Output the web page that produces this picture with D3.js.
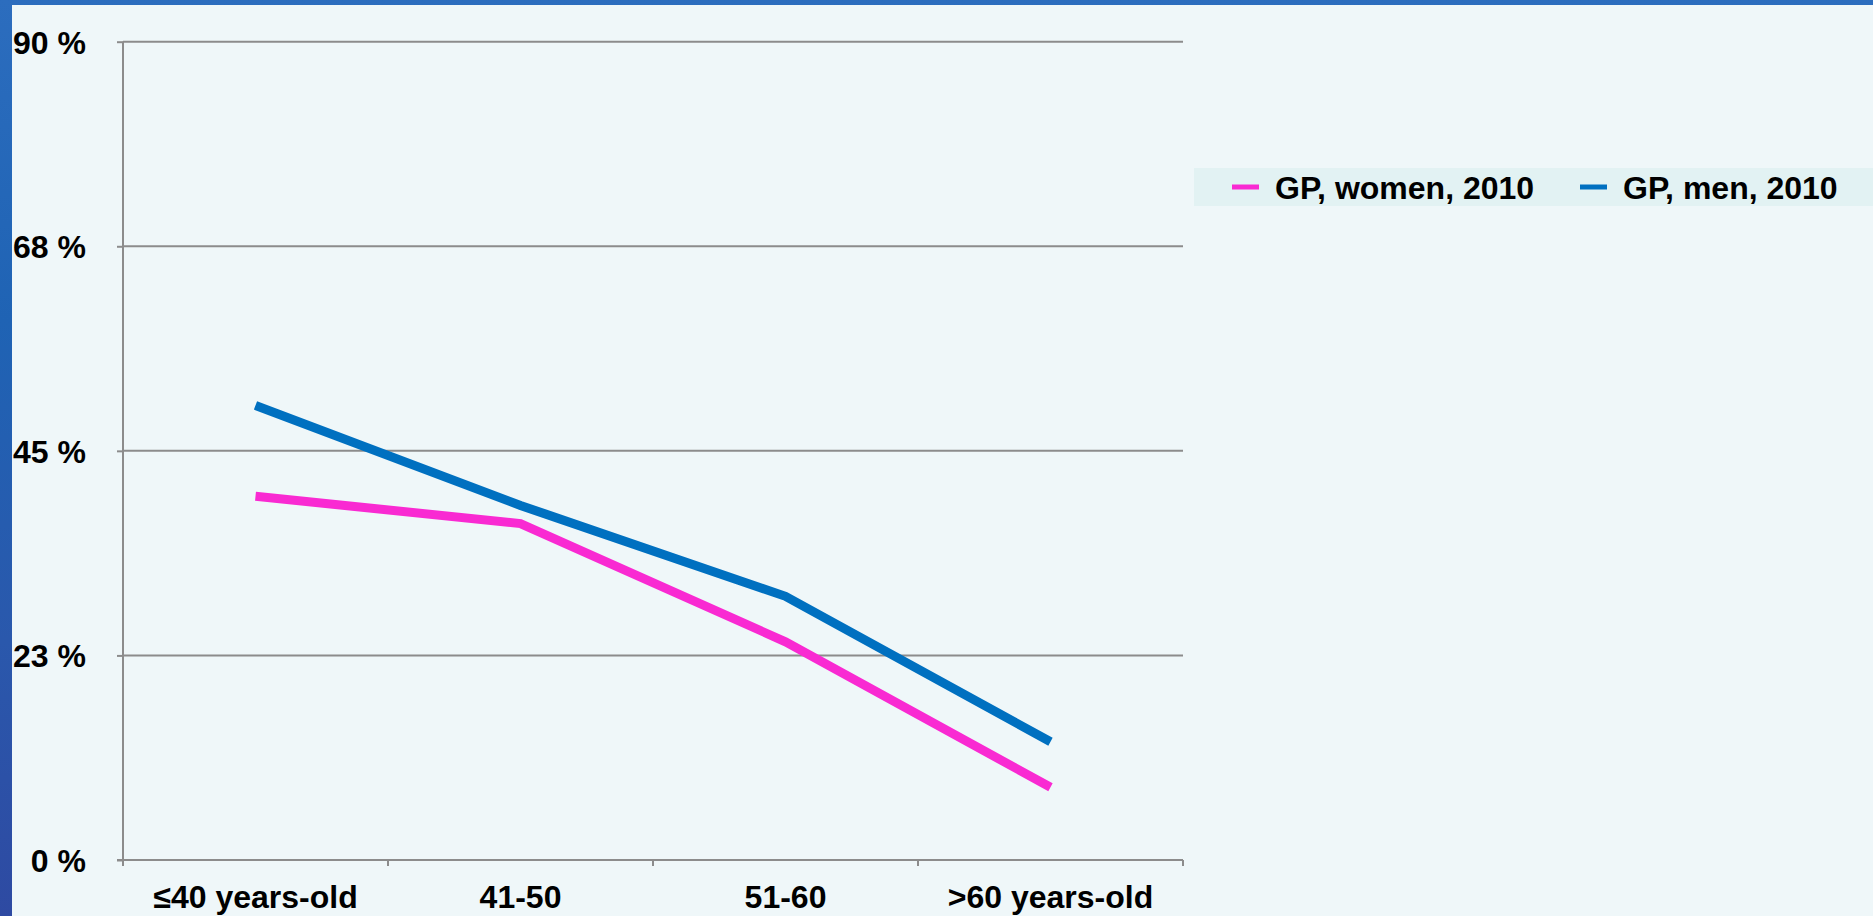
<!DOCTYPE html>
<html>
<head>
<meta charset="utf-8">
<script src="https://cdn.jsdelivr.net/npm/d3@7"></script>
<style>
  html, body { margin: 0; padding: 0; background: #EFF7F9; }
  svg { display: block; }
  text { font-family: "Liberation Sans", Arial, Helvetica, sans-serif; font-weight: bold; fill: #000; }
</style>
</head>
<body>
<svg id="chart" width="1873" height="916"></svg>
<script>
// Age groups on the x axis
const categories = ["≤40 years-old", "41-50", "51-60", ">60 years-old"];
// Share of GPs per age group, 2010 (%)
const women2010 = [40, 37, 24, 8];
const men2010 = [50, 39, 29, 13];
// Y axis ticks and their printed labels
const yTicks = [0, 22.5, 45, 67.5, 90];
const yTickLabels = ["0 %", "23 %", "45 %", "68 %", "90 %"];
// Legend entries
const seriesNames = ["GP, women, 2010", "GP, men, 2010"];
const seriesColors = ["#F92AD2", "#0070C0"];

(function () {
  const svg = d3.select("#chart");
  const W = 1873, H = 916;
  const fontSize = 32;

  // Textured blue slide frame (top and left edges)
  const defs = svg.append("defs");
  const gFrame = defs.append("linearGradient").attr("id", "frameGrad")
    .attr("x1", 0).attr("y1", 0).attr("x2", 0).attr("y2", 1);
  gFrame.append("stop").attr("offset", "0%").attr("stop-color", "#2C6DBE");
  gFrame.append("stop").attr("offset", "35%").attr("stop-color", "#1F63B4");
  gFrame.append("stop").attr("offset", "70%").attr("stop-color", "#2A58AC");
  gFrame.append("stop").attr("offset", "100%").attr("stop-color", "#2E4AA2");
  svg.append("rect").attr("x", 0).attr("y", 0).attr("width", W).attr("height", H)
    .attr("fill", "url(#frameGrad)");
  svg.append("rect").attr("x", 12).attr("y", 5).attr("width", W - 12).attr("height", H - 5)
    .attr("fill", "#EFF7F9");

  const plotLeft = 123, plotRight = 1183, plotTop = 41.7, plotBottom = 860;
  const x = d3.scaleBand().domain(categories).range([plotLeft, plotRight]);
  const y = d3.scaleLinear().domain([0, 90]).range([plotBottom, plotTop]);
  const axisColor = "#8C8C8C";

  // Horizontal gridlines
  svg.append("g").selectAll("line").data(yTicks.slice(1)).join("line")
    .attr("x1", plotLeft).attr("x2", plotRight)
    .attr("y1", d => y(d)).attr("y2", d => y(d))
    .attr("stroke", axisColor).attr("stroke-width", 2);

  // Y axis
  const yAxis = d3.axisLeft(y).tickValues(yTicks)
    .tickFormat((d, i) => yTickLabels[i])
    .tickSize(6).tickPadding(31);
  const gy = svg.append("g").attr("transform", `translate(${plotLeft},0)`).call(yAxis);
  gy.select(".domain").remove();
  gy.selectAll(".tick line").attr("stroke", axisColor).attr("stroke-width", 2);
  gy.selectAll(".tick text").attr("font-size", fontSize).attr("dy", "0.36em")
    .style("font-family", '"Liberation Sans", Arial, sans-serif').style("font-weight", "bold");
  svg.append("line").attr("x1", plotLeft).attr("x2", plotLeft)
    .attr("y1", plotTop).attr("y2", plotBottom + 6)
    .attr("stroke", axisColor).attr("stroke-width", 2);

  // X axis with ticks at category boundaries
  svg.append("line").attr("x1", plotLeft - 6).attr("x2", plotRight)
    .attr("y1", plotBottom).attr("y2", plotBottom)
    .attr("stroke", axisColor).attr("stroke-width", 2);
  const bounds = categories.map(c => x(c)).concat([x.range()[1]]);
  svg.append("g").selectAll("line").data(bounds).join("line")
    .attr("x1", d => d).attr("x2", d => d)
    .attr("y1", plotBottom).attr("y2", plotBottom + 6)
    .attr("stroke", axisColor).attr("stroke-width", 2);
  const xAxis = d3.axisBottom(x).tickSize(0).tickPadding(25);
  const gx = svg.append("g").attr("transform", `translate(0,${plotBottom})`).call(xAxis);
  gx.select(".domain").remove();
  gx.selectAll(".tick text").attr("font-size", fontSize)
    .style("font-family", '"Liberation Sans", Arial, sans-serif').style("font-weight", "bold");

  // Series lines
  const line = d3.line()
    .x((d, i) => x(categories[i]) + x.bandwidth() / 2)
    .y(d => y(d));
  [women2010, men2010].forEach((vals, k) => {
    svg.append("path").datum(vals)
      .attr("d", line)
      .attr("fill", "none")
      .attr("stroke", seriesColors[k])
      .attr("stroke-width", 9)
      .attr("stroke-linejoin", "miter")
      .attr("stroke-linecap", "butt");
  });

  // Legend
  const legend = svg.append("g");
  legend.append("rect").attr("x", 1194).attr("y", 168).attr("width", W - 1194).attr("height", 38)
    .attr("fill", "#E2F2F3");
  const legendX = [1232, 1580];
  seriesNames.forEach((name, k) => {
    legend.append("line")
      .attr("x1", legendX[k]).attr("x2", legendX[k] + 27)
      .attr("y1", 187).attr("y2", 187)
      .attr("stroke", seriesColors[k]).attr("stroke-width", 5);
    legend.append("text")
      .attr("x", legendX[k] + 43).attr("y", 187).attr("dy", "0.36em")
      .attr("font-size", fontSize)
      .text(name);
  });
})();
</script>
</body>
</html>
